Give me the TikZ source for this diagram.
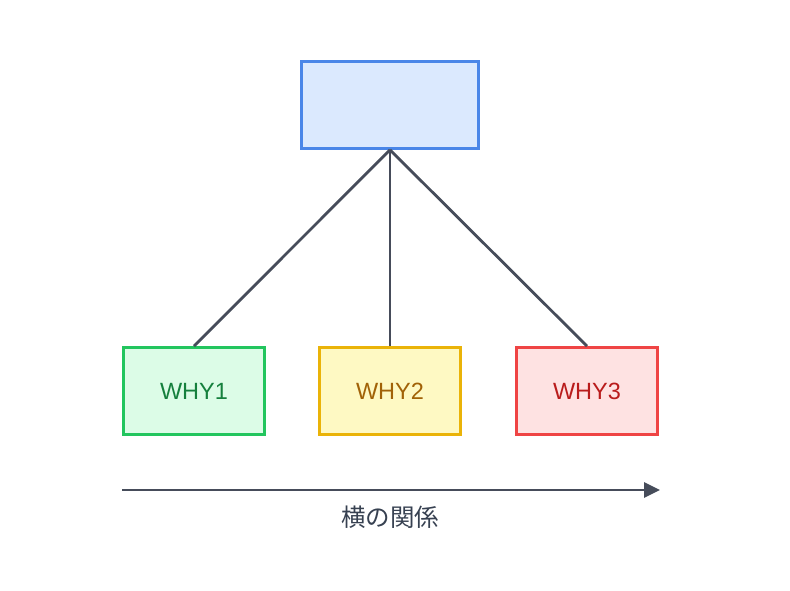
\documentclass[tikz,border=0pt]{standalone}
\usepackage{fontspec}
\setmainfont{Liberation Sans}
\newfontfamily\jpfont{Noto Sans CJK JP}
\usetikzlibrary{arrows.meta}

\definecolor{topline}{HTML}{4A86E8}
\definecolor{topfill}{HTML}{DBE9FE}
\definecolor{greenline}{HTML}{22C55E}
\definecolor{greenfill}{HTML}{DCFCE7}
\definecolor{greentext}{HTML}{15803D}
\definecolor{yellowline}{HTML}{EAB308}
\definecolor{yellowfill}{HTML}{FEF9C3}
\definecolor{yellowtext}{HTML}{A16207}
\definecolor{redline}{HTML}{EF4444}
\definecolor{redfill}{HTML}{FEE2E2}
\definecolor{redtext}{HTML}{B91C1C}
\definecolor{linkline}{HTML}{464C5A}
\definecolor{labeltext}{HTML}{374151}

\tikzset{
    whybox/.style={draw, line width=2.8pt, minimum width=141pt, minimum height=87pt,
        inner sep=0pt, font=\fontsize{23.5}{27}\selectfont},
    link/.style={draw=linkline, line width=2.8pt}
}

\begin{document}
\begin{tikzpicture}[x=1pt, y=-1pt]
    % Page size
    \useasboundingbox ({0}, {0}) rectangle ({790}, {590});

    % Top box
    \node[whybox, draw=topline, fill=topfill, minimum width=177pt] (top) at ({390}, {105}) {};

    % Bottom boxes
    \node[whybox, draw=greenline, fill=greenfill, text=greentext] (why1) at ({194}, {391}) {WHY1};
    \node[whybox, draw=yellowline, fill=yellowfill, text=yellowtext] (why2) at ({390}, {391}) {WHY2};
    \node[whybox, draw=redline, fill=redfill, text=redtext] (why3) at ({587}, {391}) {WHY3};

    % Links
    \foreach \n in {why1, why2, why3} {
        \draw[link] (top.south) to (\n.north);
    }

    % Horizontal relation
    \coordinate (rstart) at ({122}, {490});
    \coordinate (rend) at ({660}, {490});
    \draw[link, -{Triangle[length=16pt, width=15pt]}] (rstart) to (rend);
    \node[text=labeltext, font=\jpfont\fontsize{24.5}{28}\selectfont] (rlabel) at ({390}, {517}) {横の関係};
\end{tikzpicture}
\end{document}
